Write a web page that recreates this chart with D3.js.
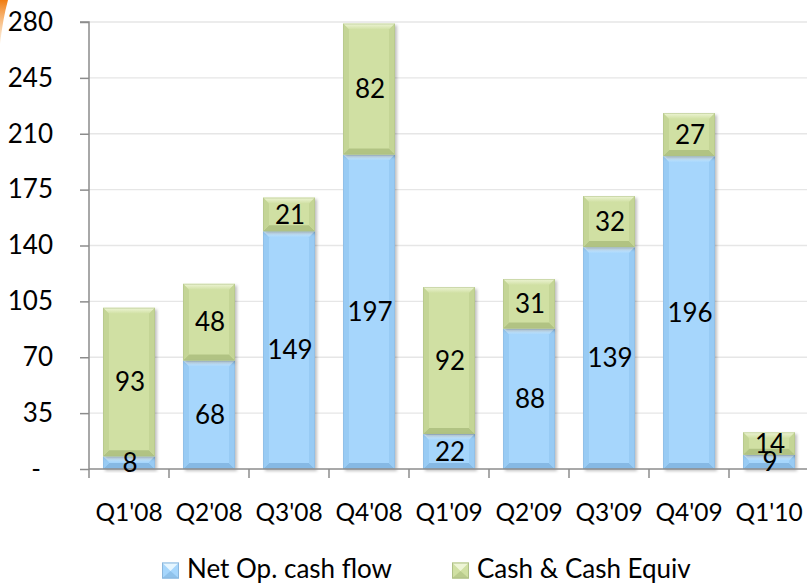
<!DOCTYPE html>
<html>
<head>
<meta charset="utf-8">
<script src="https://cdn.jsdelivr.net/npm/d3@7"></script>
<style>
  body { margin: 0; background: #fff; }
  svg { display: block; font-family: Lato, "Open Sans", sans-serif; }
</style>
</head>
<body>
<svg id="chart" width="807" height="587"></svg>
<script>
// data
const quarters = ["Q1'08", "Q2'08", "Q3'08", "Q4'08", "Q1'09", "Q2'09", "Q3'09", "Q4'09", "Q1'10"];
const netOpCashFlow = [8, 68, 149, 197, 22, 88, 139, 196, 9];
const cashEquiv = [93, 48, 21, 82, 92, 31, 32, 27, 14];
const yTicks = [0, 35, 70, 105, 140, 175, 210, 245, 280];
const seriesNames = ["Net Op. cash flow", "Cash & Cash Equiv"];

const palette = {
  blue: {base: "#a6d6fc", light: "#e6f6ff", side: "#98cbf4", dark: "#86b9e4", line: "#8ab6dc"},
  green: {base: "#d0e0a3", light: "#eef5d6", side: "#c4d596", dark: "#b1c383", line: "#aebf86"}
};

var svg = d3.select("#chart"),
   margin = {top: 22, right: 0, bottom: 118, left: 89},
   width = +svg.attr("width"),
   height = +svg.attr("height");

const rows = quarters.map((q, i) => ({q: q, net: netOpCashFlow[i], cash: cashEquiv[i]}));
const stacked = d3.stack().keys(["net", "cash"])(rows);

const xScale = d3.scaleBand()
   .domain(quarters)
   .range([margin.left, margin.left + 80 * quarters.length])
   .paddingInner(0.35)
   .paddingOuter(0.175);

const yScale = d3.scaleLinear()
   .domain([0, 280])
   .range([469, margin.top]);

// drop shadow
const defs = svg.append("defs");
const f = defs.append("filter").attr("id", "shadow")
   .attr("x", "-20%").attr("y", "-20%").attr("width", "150%").attr("height", "150%");
f.append("feDropShadow").attr("dx", 2).attr("dy", 2).attr("stdDeviation", 1.8)
   .attr("flood-color", "#000").attr("flood-opacity", 0.25);

const og = defs.append("linearGradient").attr("id", "orange")
   .attr("x1", 0).attr("y1", 0).attr("x2", 0).attr("y2", 1);
og.append("stop").attr("offset", 0).attr("stop-color", "#f07d12");
og.append("stop").attr("offset", 1).attr("stop-color", "#f7b060").attr("stop-opacity", 0.2);

// top bevel gradients
["blue", "green"].forEach(k => {
   const g = defs.append("linearGradient").attr("id", "top-" + k)
      .attr("x1", 0).attr("y1", 0).attr("x2", 0).attr("y2", 1);
   g.append("stop").attr("offset", 0).attr("stop-color", palette[k].light);
   g.append("stop").attr("offset", 1).attr("stop-color", palette[k].base);
   palette[k].topFill = "url(#top-" + k + ")";
});

// orange corner streak
svg.append("path")
   .attr("d", "M0,0 L8,0 Q3,18 0,44 Z")
   .attr("fill", "url(#orange)");

// gridlines
svg.append("g")
   .selectAll("line")
   .data(yTicks.filter(d => d > 0))
   .join("line")
   .attr("x1", margin.left).attr("x2", width)
   .attr("y1", d => yScale(d)).attr("y2", d => yScale(d))
   .attr("stroke", "#e6e6e6").attr("stroke-width", 1.3);

// bevelled box
function bevel(g, x, y, w, h, c) {
   const b = Math.min(6, h / 2, w / 2);
   const grp = g.append("g").attr("filter", "url(#shadow)");
   grp.append("rect").attr("x", x).attr("y", y).attr("width", w).attr("height", h).attr("fill", c.base);
   const sides = [
      [[x, y], [x + w, y], [x + w - b, y + b], [x + b, y + b], c.topFill],
      [[x, y + h], [x + w, y + h], [x + w - b, y + h - b], [x + b, y + h - b], c.dark],
      [[x, y], [x + b, y + b], [x + b, y + h - b], [x, y + h], c.side],
      [[x + w, y], [x + w - b, y + b], [x + w - b, y + h - b], [x + w, y + h], c.side]
   ];
   sides.forEach(s => {
      grp.append("polygon")
         .attr("points", s.slice(0, 4).map(p => p.join(",")).join(" "))
         .attr("fill", s[4]);
   });
   grp.append("rect").attr("x", x + 0.5).attr("y", y + 0.5)
      .attr("width", Math.max(0, w - 1)).attr("height", Math.max(0, h - 1))
      .attr("fill", "none").attr("stroke", c.line).attr("stroke-width", 1).attr("stroke-opacity", 0.5);
}

const colors = [palette.blue, palette.green];
const barG = svg.append("g");
stacked.forEach((layer, li) => {
   layer.forEach(d => {
      const x = xScale(d.data.q);
      const y = yScale(d[1]);
      bevel(barG, x, y, xScale.bandwidth(), yScale(d[0]) - y, colors[li]);
   });
});

// axes
const yAxis = svg.append("g")
   .attr("transform", `translate(${margin.left},0)`)
   .call(d3.axisLeft(yScale).tickValues(yTicks).tickSize(9).tickPadding(27)
      .tickFormat(d => d === 0 ? "-" : d));
yAxis.selectAll("text")
   .attr("font-family", "Lato, sans-serif")
   .attr("font-size", "26px")
   .attr("fill", "#000");
yAxis.selectAll(".tick").filter(d => d === 0).select("text").attr("x", -48);

const xAxis = svg.append("g")
   .attr("transform", `translate(0,469)`)
   .call(d3.axisBottom(xScale).tickSize(0).tickPadding(35));
xAxis.selectAll("text")
   .attr("font-family", "Lato, sans-serif")
   .attr("font-size", "24.5px")
   .attr("fill", "#000");
// boundary ticks between categories
svg.append("g")
   .selectAll("line")
   .data(d3.range(quarters.length + 1))
   .join("line")
   .attr("x1", i => margin.left + i * xScale.step())
   .attr("x2", i => margin.left + i * xScale.step())
   .attr("y1", 469).attr("y2", 478)
   .attr("stroke", "#8c8c8c").attr("stroke-width", 1.5);

[yAxis, xAxis].forEach(a => {
   a.selectAll("path.domain, line").attr("stroke", "#8c8c8c").attr("stroke-width", 1.5);
});
yAxis.select("path.domain").attr("d", `M-9,${yScale(280)}H0V469`);
xAxis.select("path.domain").attr("d", `M${margin.left},0H${width}`);

// data labels
stacked.forEach(layer => {
   svg.append("g")
      .selectAll("text")
      .data(layer)
      .join("text")
      .attr("x", d => xScale(d.data.q) + xScale.bandwidth() / 2 + 1)
      .attr("y", d => (yScale(d[0]) + yScale(d[1])) / 2)
      .attr("dy", "0.36em")
      .attr("text-anchor", "middle")
      .attr("font-size", "26px")
      .attr("fill", "#000")
      .text(d => d[1] - d[0]);
});

// legend
const legend = svg.append("g").attr("transform", "translate(0,570)");
const legendX = [162, 452];
seriesNames.forEach((name, i) => {
   const g = legend.append("g").attr("transform", `translate(${legendX[i]},0)`);
   const c = colors[i];
   g.append("rect").attr("x", 0).attr("y", -7.5).attr("width", 17).attr("height", 16).attr("fill", c.base);
   g.append("polygon").attr("points", "0,-7.5 17,-7.5 8.5,1").attr("fill", c.light);
   g.append("polygon").attr("points", "0,8.5 17,8.5 8.5,1").attr("fill", c.dark).attr("opacity", 0.7);
   g.append("rect").attr("x", 0.5).attr("y", -7).attr("width", 16).attr("height", 15)
      .attr("fill", "none").attr("stroke", c.line);
   g.append("text").attr("x", 25).attr("y", -1.5).attr("dy", "0.36em")
      .attr("font-size", "26px").attr("fill", "#000").text(name);
});
</script>
</body>
</html>
